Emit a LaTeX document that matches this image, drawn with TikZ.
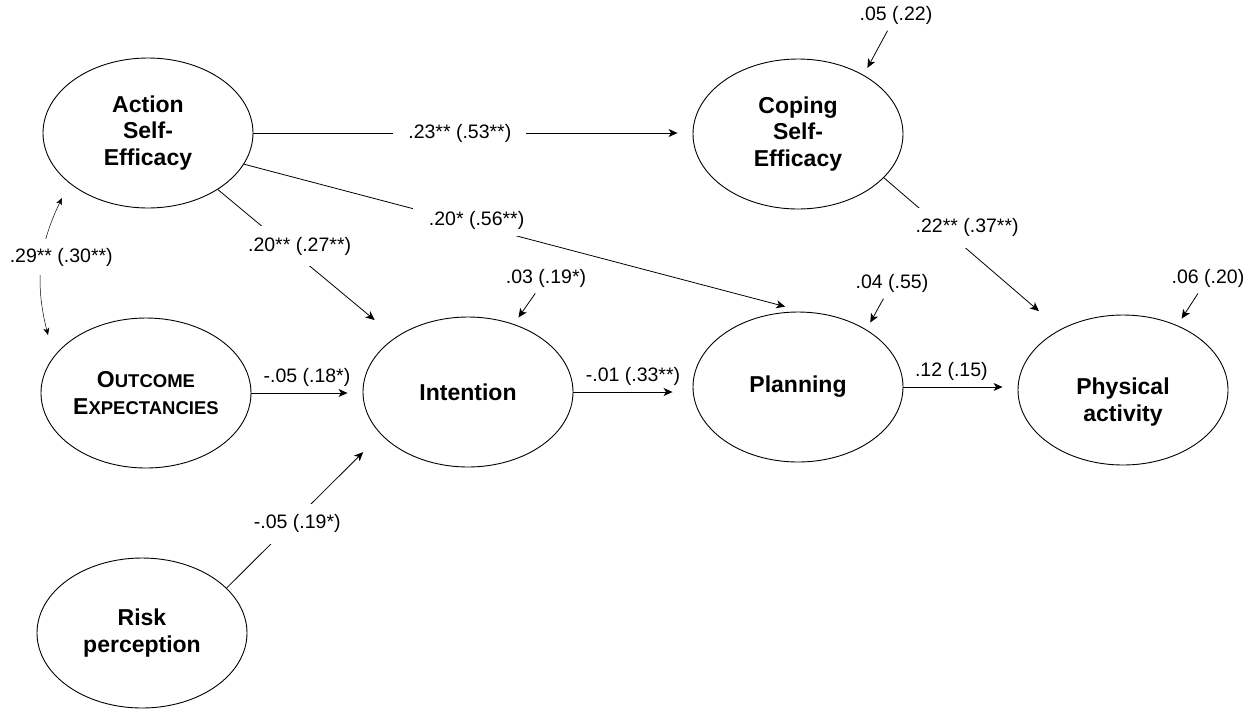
\documentclass[tikz,border=0pt]{standalone}
\usepackage{fontspec}
\setmainfont{Liberation Sans}
\usepackage{tikz}
\usetikzlibrary{arrows.meta, shapes.geometric}

\newcommand{\scword}[2]{{\fontsize{23}{26}\selectfont #1}{\fontsize{18.5}{26}\selectfont #2}}

\begin{document}
\begin{tikzpicture}[
		x=1pt, y=1pt,
		% Node styles
		latent/.style={
				ellipse, draw, line width=0.9pt,
				minimum width=210pt, minimum height=150pt, inner sep=0pt,
				align=center, font=\fontsize{23}{26.5}\selectfont\bfseries,
			},
		coef/.style={
				font=\fontsize{19.5}{22}\selectfont, inner sep=2pt,
			},
		gap/.style={
				coef, fill=white, inner sep=11pt,
			},
		% Edge/arrow styles
		effect/.style={
				draw, line width=0.8pt, ->, >={Stealth[length=9pt, width=8pt, inset=2.5pt]},
			},
		resid/.style={
				effect, shorten <=5pt, shorten >=8pt,
			},
		corr/.style={
				draw, line width=0.5pt, <->, >={Stealth[length=7pt, width=6pt, inset=2pt]},
			},
	]
	\useasboundingbox (0,0) rectangle (1253,-713);

	% --- Latent variables ---
	\node[latent] (ase) at (148,-133) {Action\\Self-\\Efficacy};
	\node[latent] (cse) at (798,-134) {Coping\\Self-\\Efficacy};
	\node[latent] (oe) at (146,-393) {\scword{O}{UTCOME}\\\scword{E}{XPECTANCIES}};
	\node[latent] (int) at (468,-392) {Intention};
	\node[latent] (plan) at (798,-387) {Planning};
	\node[latent] (pa) at (1123,-390) {\rule{0pt}{41pt}Physical\\activity};
	\node[latent] (risk) at (142,-633) {Risk\\perception};

	% --- Paths with coefficients ---
	\draw[effect, shorten >=15pt] (ase.east) -- (ase.east -| cse.west)
		node[gap, inner xsep=15pt, inner ysep=4pt, pos=0.47] {.23** (.53**)};
	\draw[effect, shorten >=27pt] (ase.-39) -- (int.143)
		node[gap, pos=0.41, xshift=9pt, yshift=4pt] {.20** (.27**)};
	\draw[effect, shorten >=20pt] (ase.-18) -- (plan.85)
		node[gap, inner xsep=16pt, inner ysep=7pt, pos=0.415, yshift=5pt] {.20* (.56**)};
	\draw[effect, shorten >=28pt] (cse.-27) -- (pa.136)
		node[gap, pos=0.342, xshift=23pt, yshift=2pt] {.22** (.37**)};
	\draw[effect, shorten >=25pt] (risk.28) -- (int.206)
		node[gap, pos=0.4, xshift=9pt, yshift=3pt] {-.05 (.19*)};
	\draw[effect, shorten >=15pt] (oe.east) -- (oe.east -| int.west)
		node[coef, above=4pt, midway] {-.05 (.18*)};
	\draw[effect, shorten >=20pt] (int.east) -- (int.east -| plan.west)
		node[coef, above=4pt, midway] {-.01 (.33**)};
	\draw[effect, shorten >=15pt] (plan.east) -- (plan.east -| pa.west)
		node[coef, above=4pt, pos=0.42] {.12 (.15)};

	% --- Residuals ---
	\foreach \nm/\val/\x/\y/\tgt in {ecse/.05 (.22)/896/15/cse.42, eint/.03 (.19*)/546/278/int.56,
			eplan/.04 (.55)/892/283/plan.40, epa/.06 (.20)/1208/278/pa.50} {
			\node[coef] (\nm) at (\x,-\y) {\val};
			\draw[resid] (\nm) -- (\tgt);
		}

	% --- Correlation ---
	\coordinate (corTop) at (62,-198);
	\coordinate (corBot) at (48,-335);
	\draw[corr] (corTop) to[bend right=20]
		node[coef, fill=white, inner ysep=9pt, xshift=20pt, yshift=8pt] {.29** (.30**)} (corBot);

\end{tikzpicture}
\end{document}
